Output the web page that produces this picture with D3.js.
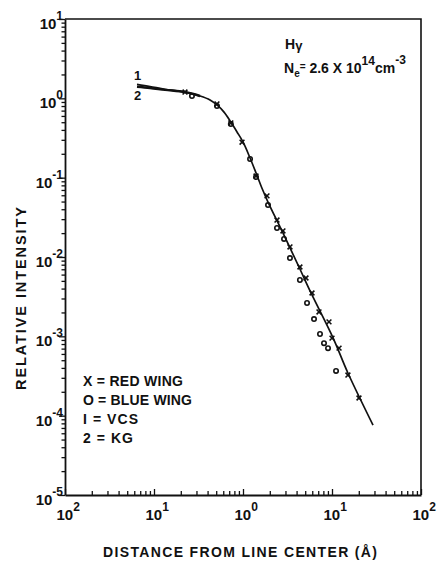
<!DOCTYPE html>
<html>
<head>
<meta charset="utf-8">
<script src="https://cdn.jsdelivr.net/npm/d3@7/dist/d3.min.js"></script>
<style>
    body { margin: 0; background: #fff; }
    text { font-family: "Liberation Sans", Arial, sans-serif; font-weight: bold; fill: #111; }
</style>
</head>
<body>
<div id="chart"></div>
<script>

// red wing measurements (X)
const redDist = [0.223, 0.51, 0.73, 0.975, 1.40, 1.86, 2.41, 2.81, 3.37, 4.36, 5.10, 5.96, 7.14, 9.25, 10.0, 12.0, 15.1, 20.1];
const redInt  = [1.20, 0.85, 0.49, 0.28, 0.105, 0.059, 0.0292, 0.0213, 0.0134, 0.00748, 0.00543, 0.00352, 0.00203, 0.00152, 9.5e-4, 7.1e-4, 3.25e-4, 1.67e-4];

// blue wing measurements (O)
const blueDist = [0.267, 0.51, 0.73, 1.20, 1.40, 1.91, 2.41, 2.89, 3.37, 4.36, 5.24, 6.28, 7.33, 8.13, 9.02, 11.1];
const blueInt  = [1.07, 0.80, 0.474, 0.172, 0.102, 0.0452, 0.0232, 0.0169, 0.0097, 0.00513, 0.00263, 0.00165, 0.00107, 8.2e-4, 7.1e-4, 3.66e-4];

// theory curve 1 (VCS)
const vcsDist = [0.0644, 0.0902, 0.133, 0.223, 0.329, 0.426, 0.51, 0.612, 0.73, 0.857, 1.0, 1.20, 1.40, 1.63, 1.91, 2.81, 4.36, 5.81, 10.3, 15.1, 28.9];
const vcsInt  = [1.50, 1.41, 1.30, 1.20, 1.07, 0.955, 0.825, 0.67, 0.503, 0.377, 0.282, 0.177, 0.115, 0.0741, 0.0493, 0.0201, 0.00706, 0.00352, 9.5e-4, 3.45e-4, 7.6e-5];

// theory curve 2 (KG), only separates from VCS near the core
const kgDist = [0.0644, 0.0902, 0.133, 0.223, 0.329];
const kgInt  = [1.40, 1.35, 1.28, 1.20, 1.07];

// tick label exponents (as printed)
const xExp = ["2", "1", "0", "1", "2"];
const yExp = ["1", "0", "-1", "-2", "-3", "-4", "-5"];

const legendRows = ["X = RED WING", "O = BLUE WING", "I = VCS", "2 = KG"];

const width = 440, height = 563;
const margin = {top: 19, right: 19, bottom: 68, left: 65};

const svg = d3.select("#chart").append("svg")
    .attr("width", width)
    .attr("height", height);

const x = d3.scaleLog()
    .domain([1e-2, 1e2])
    .range([margin.left, width - margin.right]);

const y = d3.scaleLog()
    .domain([1e-5, 1e1])
    .range([height - margin.bottom, margin.top]);

const isMajor = d => Math.abs(Math.log10(d) - Math.round(Math.log10(d))) < 1e-6;

// frame (top + right)
svg.append("path")
    .attr("d", `M${x.range()[0]},${y.range()[1]}H${x.range()[1]}V${y.range()[0]}`)
    .attr("fill", "none")
    .attr("stroke", "#111")
    .attr("stroke-width", 1.6);

// y axis, ticks outward
const yAxis = svg.append("g")
    .attr("transform", `translate(${margin.left},0)`)
    .call(d3.axisLeft(y).tickValues(y.ticks()).tickFormat("").tickSizeOuter(0));
yAxis.select(".domain").attr("stroke", "#111").attr("stroke-width", 1.8);
yAxis.selectAll(".tick line")
    .attr("stroke", "#111")
    .attr("stroke-width", 1.3)
    .attr("x2", d => isMajor(d) ? -6 : -3.5);

// x axis, ticks inward
const xAxis = svg.append("g")
    .attr("transform", `translate(0,${y.range()[0]})`)
    .call(d3.axisBottom(x).tickValues(x.ticks()).tickFormat("").tickSizeOuter(0));
xAxis.select(".domain").attr("stroke", "#111").attr("stroke-width", 1.8);
xAxis.selectAll(".tick line")
    .attr("stroke", "#111")
    .attr("stroke-width", 1.3)
    .attr("y2", d => isMajor(d) ? -6 : -4);

// y tick labels
const yMajors = y.ticks().filter(isMajor).reverse();
yMajors.forEach(function(d, i) {
    let t = svg.append("text")
        .attr("x", margin.left - 2)
        .attr("y", y(d) + 10)
        .attr("text-anchor", "end")
        .attr("font-size", 15);
    t.append("tspan").text("10");
    t.append("tspan").attr("font-size", 12).attr("dy", -9).text(yExp[i]);
});

// x tick labels
const xMajors = x.ticks().filter(isMajor);
xMajors.forEach(function(d, i) {
    let t = svg.append("text")
        .attr("x", x(d) - 8.5)
        .attr("y", y.range()[0] + 25)
        .attr("font-size", 15);
    t.append("tspan").text("10");
    t.append("tspan").attr("font-size", 12).attr("dy", -9).text(xExp[i]);
});

// axis titles
svg.append("text")
    .attr("x", 103)
    .attr("y", 557)
    .attr("font-size", 14)
    .attr("textLength", 274)
    .attr("lengthAdjust", "spacing")
    .text("DISTANCE FROM LINE CENTER (Å)");

svg.append("text")
    .attr("transform", "translate(26,390) rotate(-90)")
    .attr("font-size", 14.5)
    .attr("textLength", 183)
    .attr("lengthAdjust", "spacing")
    .text("RELATIVE    INTENSITY");

// theory curves
const line = d3.line()
    .x(d => x(d[0]))
    .y(d => y(d[1]))
    .curve(d3.curveCatmullRom.alpha(0.5));

svg.append("path")
    .datum(d3.zip(kgDist, kgInt))
    .attr("d", line)
    .attr("fill", "none")
    .attr("stroke", "#111")
    .attr("stroke-width", 2.4);

svg.append("path")
    .datum(d3.zip(vcsDist, vcsInt))
    .attr("d", line)
    .attr("fill", "none")
    .attr("stroke", "#111")
    .attr("stroke-width", 1.7);

// curve labels
svg.append("text").attr("x", 134).attr("y", 80).attr("font-size", 13).text("1");
svg.append("text").attr("x", 134).attr("y", 100).attr("font-size", 13).text("2");

// red wing crosses
svg.append("g").selectAll("path")
    .data(d3.zip(redDist, redInt))
    .enter()
    .append("path")
    .attr("transform", d => `translate(${x(d[0])},${y(d[1])})`)
    .attr("d", "M-2.4,-2.4L2.4,2.4M-2.4,2.4L2.4,-2.4")
    .attr("stroke", "#111")
    .attr("stroke-width", 1.6);

// blue wing circles
svg.append("g").selectAll("circle")
    .data(d3.zip(blueDist, blueInt))
    .enter()
    .append("circle")
    .attr("cx", d => x(d[0]))
    .attr("cy", d => y(d[1]))
    .attr("r", 2.2)
    .attr("fill", "none")
    .attr("stroke", "#111")
    .attr("stroke-width", 1.6);

// annotation
let h = svg.append("text").attr("x", 285).attr("y", 49).attr("font-size", 14);
h.append("tspan").text("H");
h.append("tspan").attr("font-size", 13).attr("dy", 1).text("γ");

let ne = svg.append("text").attr("x", 284).attr("y", 73).attr("font-size", 14);
ne.append("tspan").text("N");
ne.append("tspan").attr("font-size", 10).attr("dy", 4).text("e");
ne.append("tspan").attr("font-size", 10).attr("dy", -7).text("=");
ne.append("tspan").attr("dy", 3).text(" 2.6 X 10");
ne.append("tspan").attr("font-size", 12).attr("dy", -8).text("14");
ne.append("tspan").attr("dy", 8).text("cm");
ne.append("tspan").attr("font-size", 12).attr("dy", -9).text("-3");

// legend
legendRows.forEach(function(r, i) {
    svg.append("text")
        .attr("x", 83)
        .attr("y", 386 + i * 19)
        .attr("font-size", 14)
        .attr("textLength", [100, 109, 55, 50][i])
        .attr("lengthAdjust", "spacing")
        .text(r);
});

</script>
</body>
</html>
